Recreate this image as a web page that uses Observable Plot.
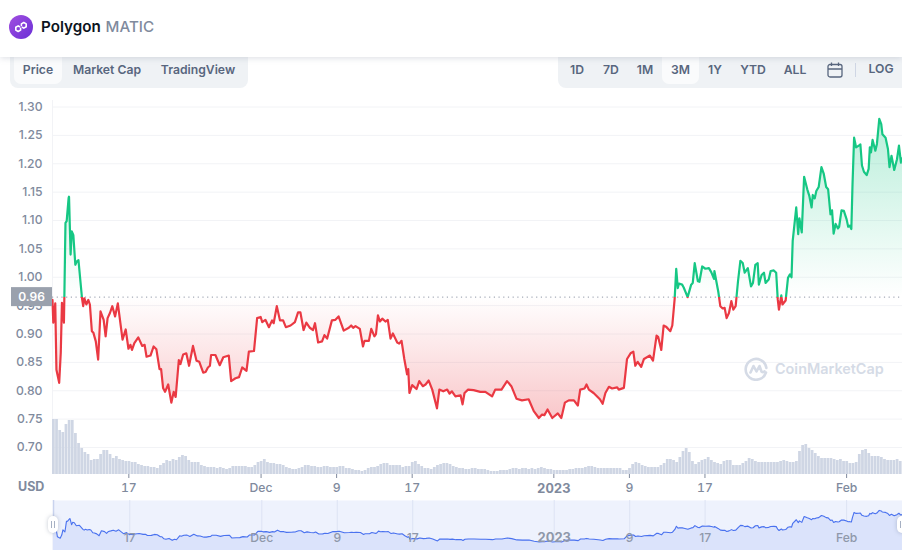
<!DOCTYPE html>
<html>
<head>
<meta charset="utf-8">
<script src="https://cdn.jsdelivr.net/npm/d3@7"></script>
<script src="https://cdn.jsdelivr.net/npm/@observablehq/plot@0.6"></script>
<style>
html,body{margin:0;padding:0;background:#fff;}
body{width:902px;height:555px;overflow:hidden;position:relative;font-family:Inter,sans-serif;}
.abs{position:absolute;}
#head{left:0;top:0;width:902px;height:57px;background:#fff;box-shadow:0 1px 6px rgba(128,138,157,.28);z-index:5;}
.name{left:41px;top:17px;font-size:15.2px;font-weight:600;color:#0d1421;line-height:20px;white-space:nowrap;}
.name span{color:#808a9d;font-weight:500;margin-left:1px;}
.group{background:#eff2f5;top:57px;height:31px;z-index:3;}
.btn{position:absolute;top:0;height:27px;line-height:26px;text-align:center;font-size:12.2px;font-weight:600;color:#58667e;white-space:nowrap;}
.btn.on{background:#fafbfc;border-radius:0 0 7px 7px;}
.usd{left:18px;top:479px;font-size:12.5px;font-weight:700;color:#808a9d;line-height:16px;z-index:4;}
.wm{left:775px;top:359px;font-size:14.4px;font-weight:600;color:#d5dbe6;line-height:20px;z-index:4;}
.handle{background:#fff;border-radius:5px;box-shadow:0 0 4px rgba(88,102,126,.35);z-index:4;width:10px;height:17px;top:516px;}
.handle i{position:absolute;top:5px;width:1px;height:7px;background:#a6b0c3;}
svg.plot,svg{display:block;}
</style>
</head>
<body>
<div id="head" class="abs">
  <svg class="abs" style="left:9px;top:15px" width="24" height="24" viewBox="0 0 24 24">
    <defs><linearGradient id="logoGrad" x1="0" y1="0" x2="1" y2="1"><stop offset="0" stop-color="#a24fe0"/><stop offset="1" stop-color="#6a2fd6"/></linearGradient></defs>
    <circle cx="12" cy="12" r="12" fill="url(#logoGrad)"/>
    <path d="M12.4 10.6V8.9l2.4-1.4 2.4 1.4v2.8l-2.4 1.4-1.4-.8M11.6 13.4v1.7l-2.4 1.4-2.4-1.4v-2.8l2.4-1.4 1.4.8" fill="none" stroke="#fff" stroke-width="1.6" stroke-linejoin="round" stroke-linecap="round"/>
  </svg>
  <div class="abs name">Polygon <span>MATIC</span></div>
</div>
<div class="abs group" style="left:10px;width:238px;border-radius:0 0 8px 8px">
  <div class="btn on" style="left:4px;width:48px">Price</div>
  <div class="btn" style="left:62px;width:70px">Market Cap</div>
  <div class="btn" style="left:150px;width:76px">TradingView</div>
</div>
<div class="abs group" style="left:558px;width:344px;border-radius:0 0 0 8px">
  <div class="btn" style="left:4px;width:30px">1D</div>
  <div class="btn" style="left:38px;width:30px">7D</div>
  <div class="btn" style="left:72px;width:30px">1M</div>
  <div class="btn on" style="left:104px;width:37px">3M</div>
  <div class="btn" style="left:142px;width:30px">1Y</div>
  <div class="btn" style="left:175px;width:40px">YTD</div>
  <div class="btn" style="left:217px;width:40px">ALL</div>
  <svg class="abs" style="left:269px;top:5px" width="16" height="16" viewBox="0 0 16 16" fill="none" stroke="#58667e" stroke-width="1.3">
    <rect x="1" y="2.5" width="14" height="12.5" rx="2"/><path d="M1 7h14M4.5 .5v3.5M11.5 .5v3.5"/>
  </svg>
  <div class="abs" style="left:297px;top:6px;width:1px;height:14px;background:#cfd6e4"></div>
  <div class="btn" style="left:306px;width:34px;top:-1px">LOG</div>
</div>
<div id="main" class="abs" style="left:0;top:0"></div>
<div id="vol" class="abs" style="left:0;top:410px"></div>
<div class="abs usd">USD</div>
<svg class="abs" style="left:744px;top:357px;z-index:4" width="24" height="24" viewBox="0 0 24 24" fill="none" stroke="#d5dbe6" stroke-width="2.6" stroke-linecap="round" stroke-linejoin="round">
  <path d="M22 15.5A10.4 10.4 0 1 1 22.4 11"/>
  <path d="M6.5 15.5 9.5 9 12.5 14.5 15.5 9 17.5 14.5c1 1 2.2 1 3-.2"/>
</svg>
<div class="abs wm">CoinMarketCap</div>
<div id="nav" class="abs" style="left:0;top:500px;width:902px;height:50px;overflow:hidden"></div>
<div class="abs handle" style="left:48px"><i style="left:3px"></i><i style="left:6px"></i></div>
<div class="abs handle" style="left:897px"><i style="left:3px"></i><i style="left:6px"></i></div>

<script>
// Timeline: hours since the start of the 90-day window
const startTime = Date.UTC(2022, 10, 8, 22);
const windowHours = 2160;
const baselinePrice = 0.965;
const baselineLabel = "0.96";

const priceHours = [
0,2,7,10,17,21,24,29,30,33,36,41,42,46,49,53,58,62,66,75,78,81,86,91,95,100,104,110,116,122,130,135,140,146,152,159,166,178,186,193,198,202,208,218,
228,234,239,249,257,264,272,276,281,286,294,302,308,313,321,325,332,340,347,357,366,373,383,389,395,400,403,414,425,434,448,454,465,474,482,493,499,512,520,529,533,541,550,558,562,570,578,586,593,605,616,624,
630,638,645,654,662,667,675,685,691,698,710,719,727,740,753,759,764,770,781,789,793,804,810,818,822,827,832,838,846,852,859,865,876,881,887,894,901,904,907,914,925,932,941,948,956,965,977,983,993,
1003,1009,1015,1024,1037,1042,1047,1056,1070,1087,1100,1117,1125,1141,1155,1166,1179,1193,1210,1223,1236,1244,1250,1258,1270,1284,1293,1302,1312,1325,1335,1341,1352,1357,1363,1375,1391,
1398,1405,1414,1422,1435,1439,1452,1460,1469,1476,1481,1487,1496,1503,1518,1526,1535,1539,1547,1553,1559,1570,1575,1581,
1585,1589,1592,1600,1604,1614,1623,1627,1632,1640,1644,1651,1659,1668,1674,1681,1682,1692,1697,1703,1708,1713,1719,1725,1730,1736,1742,1748,1754,1759,1767,1775,1780,1786,1792,1795,1802,1808,1812,1820,1825,1833,1839,1843,1846,1852,1855,1863,1869,1874,1878,
1881,1890,1895,1898,1904,1910,1918,1923,1929,1932,1937,1941,1947,1954,1960,1966,1971,1977,1981,1985,1990,1996,1999,2005,2011,2018,2022,2026,2030,2033,2037,2042,2049,2053,2057,2062,2069,2074,2077,2080,2084,2091,2095,2101,2106,2109,2117,2123,2127,2132,2139,2146,2151,2156,2160
];
const priceValues = [
.960,.920,.954,.837,.814,.867,.955,.920,.960,1.096,1.099,1.140,1.142,1.040,1.081,1.074,1.022,1.028,1.030,.963,.949,.963,.952,.960,.952,.905,.902,.887,.855,.940,.925,.896,.928,.937,.949,.931,.954,.890,.908,.874,.881,.872,.884,.894,
.879,.881,.860,.862,.878,.873,.838,.838,.805,.798,.811,.779,.798,.789,.854,.847,.864,.866,.844,.879,.853,.851,.832,.833,.841,.844,.863,.863,.845,.859,.862,.817,.822,.824,.841,.835,.869,.870,.928,.930,.921,.925,.912,.924,.919,.949,.924,.924,.912,.915,.921,.938,
.938,.907,.920,.911,.907,.919,.885,.887,.898,.892,.924,.925,.931,.906,.911,.915,.911,.914,.909,.878,.888,.888,.909,.896,.900,.933,.922,.927,.922,.925,.892,.901,.885,.883,.888,.856,.829,.838,.796,.810,.803,.817,.808,.811,.818,.802,.769,.802,.799,
.802,.795,.799,.790,.792,.776,.796,.802,.801,.798,.798,.790,.802,.802,.817,.808,.786,.783,.785,.764,.752,.758,.757,.767,.752,.760,.752,.779,.783,.783,.774,.802,.804,.811,.802,.796,.785,
.777,.796,.807,.804,.806,.802,.805,.856,.866,.869,.844,.851,.842,.856,.862,.853,.897,.895,.872,.915,.913,.905,.915,.962,
1.015,.981,.989,.987,.982,.965,.987,.990,1.025,.993,.992,1.019,1.015,1.016,1.009,.997,1.011,.974,.949,.945,.946,.928,.937,.958,.943,.949,.993,1.029,1.025,1.008,1.016,.984,.990,1.022,1.025,.987,1.004,1.008,.990,.996,1.011,1.012,1.008,.961,.943,.968,.952,.959,.999,1.005,1.000,
1.064,1.123,1.076,1.104,1.079,1.177,1.155,1.144,1.123,1.145,1.139,1.152,1.159,1.194,1.182,1.159,1.155,1.111,1.118,1.077,1.094,1.086,1.089,1.118,1.117,1.102,1.089,1.091,1.085,1.164,1.246,1.229,1.232,1.234,1.197,1.186,1.180,1.191,1.229,1.220,1.242,1.223,1.235,1.279,1.270,1.252,1.246,1.226,1.194,1.214,1.189,1.208,1.232,1.202,1.210
];

// Relative traded volume, one bar per 8 hours
const volumeStepHours = 8;
const volumeValues = [
55,55,44,42,50,54,54,41,31,26,22,20,14,15,15,20,24,24,20,16,18,15,14,13,13,12,12,10,9,8,8,7,7,6,9,11,14,13,15,14,17,19,18,14,12,12,12,9,8,7,7,7,6,7,6,5,6,8,8,8,
8,8,7,7,9,12,13,15,12,11,11,10,10,9,7,6,5,5,6,7,9,9,8,8,7,7,8,8,7,7,7,8,8,6,6,5,4,4,3,4,6,7,7,8,10,11,11,9,9,9,9,7,8,8,12,13,10,8,6,6,
5,7,9,10,11,11,10,8,7,6,6,5,5,6,6,5,5,5,4,3,3,3,4,4,4,5,6,6,5,6,6,5,6,5,6,7,6,5,5,4,4,4,4,4,5,5,6,6,6,7,8,8,7,6,6,6,
6,6,6,6,6,4,4,6,10,12,11,9,8,7,7,7,7,9,11,15,15,14,12,17,23,26,22,13,10,12,14,15,17,14,12,11,10,13,14,14,9,9,9,11,13,16,15,13,12,12,
12,12,12,12,12,13,14,13,12,12,13,23,29,30,26,24,21,18,16,16,16,16,15,14,15,13,13,11,11,12,20,24,25,21,18,18,18,17,15,14,14,14,15,13,14
];

const yTicks = [0.70,0.75,0.80,0.85,0.90,0.95,1.00,1.05,1.10,1.15,1.20,1.25,1.30];
const plainTicks = [
  {date:"2022-11-17",label:"17"},{date:"2022-12-01",label:"Dec"},{date:"2022-12-09",label:"9"},
  {date:"2022-12-17",label:"17"},{date:"2023-01-09",label:"9"},{date:"2023-01-17",label:"17"},{date:"2023-02-01",label:"Feb"}
].map(d => ({date:new Date(d.date+"T00:00:00Z"),label:d.label}));
const yearTick = [{date:new Date("2023-01-01T00:00:00Z"),label:"2023"}];

const toDate = h => new Date(startTime + h*36e5);
const prices = priceHours.map((h,i) => ({t:toDate(h),p:priceValues[i]}));
const volumes = volumeValues.map((v,i) => ({t0:toDate(i*volumeStepHours),t1:toDate((i+1)*volumeStepHours),v}));
const xDomain = [toDate(0),toDate(windowHours)];

const GREEN="#16c784", RED="#ea3943", GRID="#f2f3f6", LABEL="#808a9d";
const FONT="Inter, sans-serif";

function gradients(index, scales){
  const y0 = scales.y(baselinePrice);
  const top = scales.y(d3.max(priceValues)), bottom = scales.y(d3.min(priceValues));
  const f = (y0-top)/(bottom-top);
  const g = d3.create("svg:defs");
  const line = g.append("linearGradient").attr("id","lineGrad").attr("gradientUnits","userSpaceOnUse")
    .attr("x1",0).attr("x2",0).attr("y1",y0-1).attr("y2",y0+1);
  line.append("stop").attr("offset",.5).attr("stop-color",GREEN);
  line.append("stop").attr("offset",.5).attr("stop-color",RED);
  const area = g.append("linearGradient").attr("id","areaGrad").attr("gradientUnits","userSpaceOnUse")
    .attr("x1",0).attr("x2",0).attr("y1",top).attr("y2",bottom);
  area.append("stop").attr("offset",0).attr("stop-color",GREEN).attr("stop-opacity",.3);
  area.append("stop").attr("offset",f).attr("stop-color",GREEN).attr("stop-opacity",0);
  area.append("stop").attr("offset",f).attr("stop-color",RED).attr("stop-opacity",0);
  area.append("stop").attr("offset",1).attr("stop-color",RED).attr("stop-opacity",.28);
  return g.node();
}
function baseLabel(index, scales){
  const y0 = scales.y(baselinePrice);
  const g = d3.create("svg:g");
  g.append("rect").attr("x",11).attr("y",y0-9.5).attr("width",41).attr("height",19).attr("fill","#9aa1ad");
  g.append("text").attr("x",31.5).attr("y",y0).attr("dy","0.35em").attr("text-anchor","middle")
    .attr("fill","#fff").attr("font-size",12).attr("font-weight",600).attr("font-family",FONT).text(baselineLabel);
  return g.node();
}

const main = Plot.plot({
  width:902,height:490,
  marginLeft:52,marginRight:0,marginTop:100,marginBottom:16,
  style:{background:"transparent",fontFamily:FONT,fontSize:"12px",overflow:"visible"},
  x:{type:"utc",domain:xDomain,axis:null},
  y:{domain:[0.6524,1.3115],axis:null},
  marks:[
    gradients,
    Plot.ruleY(yTicks,{stroke:GRID,strokeWidth:1}),
    Plot.ruleX([xDomain[0]],{stroke:GRID,strokeWidth:1}),
    Plot.axisY({ticks:yTicks,tickFormat:".2f",tickSize:0,tickPadding:10,color:LABEL,fontSize:12.2,fontWeight:500,fontVariant:"normal",label:null}),
    Plot.areaY(prices,{x:"t",y1:()=>baselinePrice,y2:"p",fill:"url(#areaGrad)"}),
    Plot.ruleY([baselinePrice],{stroke:"#8f97a6",strokeWidth:1,strokeDasharray:"1.2 3.5"}),
    Plot.line(prices,{x:"t",y:"p",stroke:"url(#lineGrad)",strokeWidth:2.2}),
    baseLabel,
    Plot.axisX(plainTicks.map(d=>d.date),{tickSize:4,tickPadding:5,stroke:LABEL,color:LABEL,fontSize:12.2,fontWeight:500,label:null,
      tickFormat:d=>plainTicks.find(k=>+k.date===+d).label}),
    Plot.axisX(yearTick.map(d=>d.date),{tickSize:4,tickPadding:5,stroke:LABEL,color:LABEL,fontSize:13,fontWeight:700,label:null,
      tickFormat:()=>yearTick[0].label})
  ]
});
document.getElementById("main").append(main);

const vol = Plot.plot({
  width:902,height:64,
  marginLeft:52,marginRight:0,marginTop:0,marginBottom:0,
  style:{background:"transparent",overflow:"visible"},
  x:{type:"utc",domain:xDomain,axis:null},
  y:{domain:[0,64],axis:null},
  marks:[
    Plot.rectY(volumes,{x1:"t0",x2:"t1",y:"v",fill:"#cfd6e4",insetRight:0.4})
  ]
});
document.getElementById("vol").append(vol);

const navTicks = plainTicks.concat(yearTick);
const nav = Plot.plot({
  width:903,height:50,
  marginLeft:53,marginRight:0,marginTop:0,marginBottom:0,
  style:{background:"transparent",fontFamily:FONT,overflow:"hidden"},
  x:{type:"utc",domain:xDomain,axis:null},
  y:{domain:[0.61,1.445],axis:null},
  marks:[
    Plot.frame({fill:"#eef2fd",stroke:null}),
    Plot.ruleX([xDomain[0]],{stroke:"#c9d3ee",strokeWidth:1.5}),
    Plot.areaY(prices,{x:"t",y1:0.61,y2:"p",fill:"#dbe3fb"}),
    Plot.ruleX(navTicks,{x:"date",stroke:"#dde3f3",strokeWidth:1}),
    Plot.line(prices,{x:"t",y:"p",stroke:"#4a72ef",strokeWidth:1.1}),
    Plot.text(plainTicks,{x:"date",text:"label",frameAnchor:"bottom",dy:-8,fill:"#8f98aa",fontSize:12.2,fontWeight:500}),
    Plot.text(yearTick,{x:"date",text:"label",frameAnchor:"bottom",dy:-8,fill:"#8f98aa",fontSize:13,fontWeight:700})
  ]
});
document.getElementById("nav").append(nav);
</script>
</body>
</html>
